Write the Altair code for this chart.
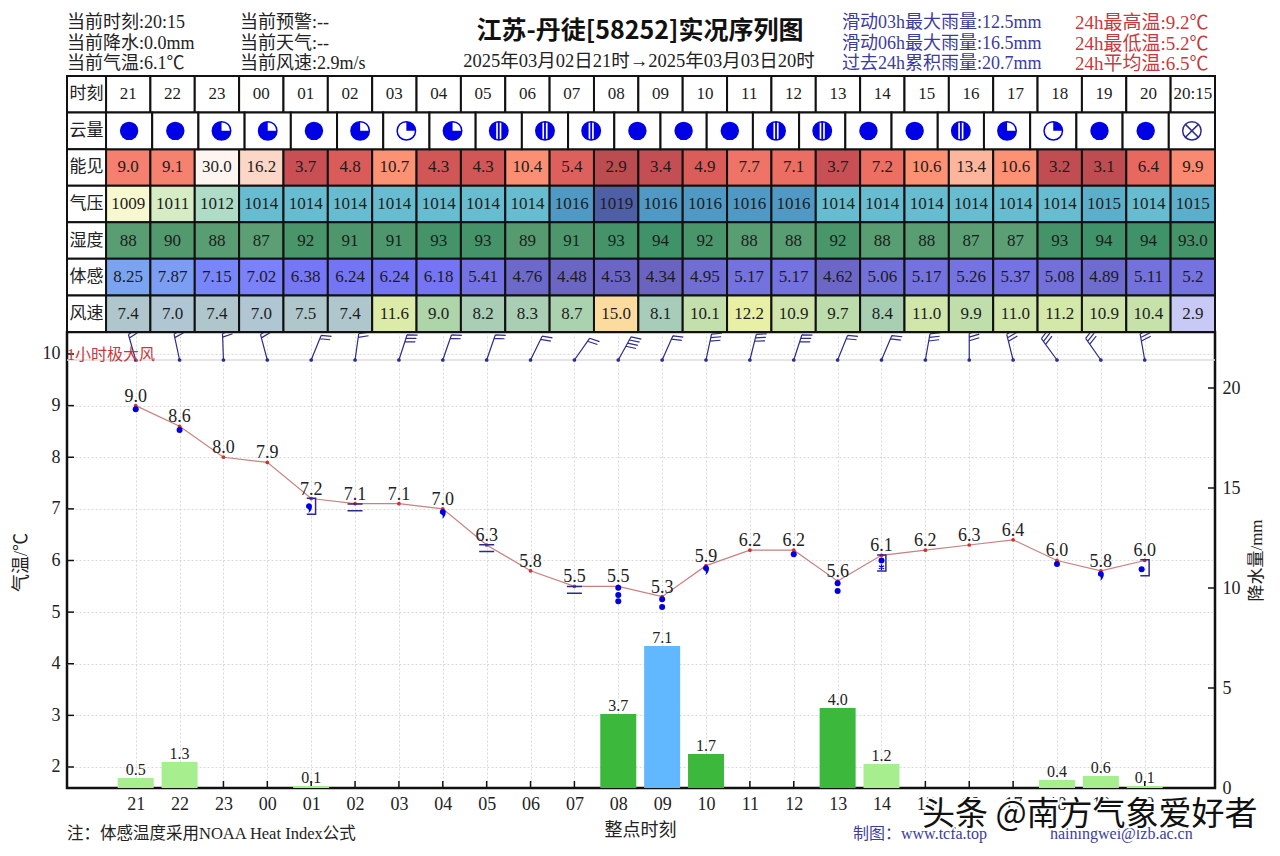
import altair as alt
import pandas as pd

# ---------- data ----------
HOURS = ["21","22","23","00","01","02","03","04","05","06","07","08","09","10","11","12","13","14","15","16","17","18","19","20"]
TIME_ROW = HOURS + ["20:15"]
ROW_TITLES = ["时刻","云量","能见","气压","湿度","体感","风速"]
CLOUD = ["full","full","three","three","full","three","one","three","half","half","half","full","full","full","half","half","full","full","half","three","one","full","full","cross"]
VIS = ["9.0","9.1","30.0","16.2","3.7","4.8","10.7","4.3","4.3","10.4","5.4","2.9","3.4","4.9","7.7","7.1","3.7","7.2","10.6","13.4","10.6","3.2","3.1","6.4","9.9"]
PRES = ["1009","1011","1012","1014","1014","1014","1014","1014","1014","1014","1016","1019","1016","1016","1016","1016","1014","1014","1014","1014","1014","1014","1015","1014","1015"]
HUM = ["88","90","88","87","92","91","91","93","93","89","91","93","94","92","88","88","92","88","88","87","87","93","94","94","93.0"]
FEEL = ["8.25","7.87","7.15","7.02","6.38","6.24","6.24","6.18","5.41","4.76","4.48","4.53","4.34","4.95","5.17","5.17","4.62","5.06","5.17","5.26","5.37","5.08","4.89","5.11","5.2"]
WIND = ["7.4","7.0","7.4","7.0","7.5","7.4","11.6","9.0","8.2","8.3","8.7","15.0","8.1","10.1","12.2","10.9","9.7","8.4","11.0","9.9","11.0","11.2","10.9","10.4","2.9"]
TEMP = [9.0,8.6,8.0,7.9,7.2,7.1,7.1,7.0,6.3,5.8,5.5,5.5,5.3,5.9,6.2,6.2,5.6,6.1,6.2,6.3,6.4,6.0,5.8,6.0]
RAIN = [0.5,1.3,0,0,0.1,0,0,0,0,0,0,3.7,7.1,1.7,0,0,4.0,1.2,0,0,0,0.4,0.6,0.1]
BARB_DIR = [-16,-12,-2,-15,22,8,18,19,19,26,35,29,24,12,14,18,22,23,10,0,-14,-36,-35,-10]
BARB_N = [2,2,2,2,2,2,3,2,2,2,2,4,2,3,3,3,2,2,3,3,3,3,3,3]
DOT_HOUR = [0,1,11,11,11,12,12,15,16,16,17,21,22.93]
DOT_TEMP = [8.93,8.53,5.47,5.33,5.21,5.25,5.10,6.12,5.56,5.41,6.00,5.93,5.83]
COMMA_HOUR = [3.95,7,13,22]
COMMA_TEMP = [7.05,6.94,5.85,5.74]
FOG_HOUR = [5,8,10]
FOG_TEMP = [7.03,6.24,5.43]
BOX_HOUR = [4,17,23]
BOX_TEMP = [7.05,5.95,5.86]
STAR_HOUR = [17]
STAR_TEMP = [5.87]
LEFT_TICKS = [2,3,4,5,6,7,8,9,10]
RIGHT_TICKS = [0,5,10,15,20]

# ---------- layout helpers ----------
SERIF = "Liberation Serif, Noto Sans CJK SC"
SANS = "Noto Sans CJK SC"
PW, PH, PX, PY = 1148, 456, 67, 332

X_MAIN = alt.Scale(domain=[-1.566, 24.602], nice=False, zero=False, padding=0)
Y_TEMP = alt.Scale(domain=[1.593, 10.426], nice=False, zero=False)
Y_RAIN = alt.Scale(domain=[0, 22.8], nice=False, zero=False)
X_TAB = alt.Scale(domain=[-0.88, 25], nice=False, zero=False)
X_CLOUD = alt.Scale(domain=[-0.844, 24], nice=False, zero=False)
Y_TAB = alt.Scale(domain=[0, 7], range=[-256, 0], nice=False, zero=False)

ONE = pd.DataFrame({"k": [0]})

def label(text, x, y, size=18, color="#222222", font=SERIF, align="left", weight="normal", **kw):
    return alt.Chart(ONE).mark_text(font=font, fontSize=size, color=color, align=align,
                                    baseline="middle", fontWeight=weight, **kw).encode(
        x=alt.value(x - PX), y=alt.value(y - PY), text=alt.value(text))

def xq(name="x"):
    return alt.X(f"{name}:Q", scale=X_TAB, axis=None)

layers = []

# ---------- main plot: axes, grid ----------
hour_expr = "[" + ",".join(f"'{h}'" for h in HOURS) + "][datum.value]"
main_df = pd.DataFrame({"h": list(range(24)), "t": TEMP, "r": RAIN,
                        "lab": [f"{t:.1f}" for t in TEMP]})
axis_layer = alt.Chart(main_df).mark_point(opacity=0).encode(
    x=alt.X("h:Q", scale=X_MAIN, axis=alt.Axis(
        values=list(range(24)), labelExpr=hour_expr, labelFont=SERIF, labelFontSize=18,
        labelColor="#222222", labelPadding=7, ticks=False, domain=False, grid=True,
        gridColor="#cfcfcf", gridDash=[2, 2], gridWidth=0.8, labelOverlap=False,
        labelFlush=False, title="整点时刻", titleFont=SERIF, titleFontSize=18,
        titleFontWeight="normal", titleColor="#222222", titleX=573, titleY=33)),
    y=alt.Y("t:Q", scale=Y_TEMP, axis=alt.Axis(
        values=LEFT_TICKS, labelFont=SERIF, labelFontSize=18, labelColor="#222222",
        labelPadding=7, ticks=False, domain=False, grid=True, gridColor="#cfcfcf",
        gridDash=[2, 2], gridWidth=0.8, format="d", title="气温/℃", titleFont=SERIF,
        titleFontSize=18, titleFontWeight="normal", titleColor="#222222",
        titleX=-37, titleY=230)))
layers.append(axis_layer)

rain_axis = alt.Chart(main_df).mark_point(opacity=0).encode(
    y=alt.Y("r:Q", scale=Y_RAIN, axis=alt.Axis(
        orient="right", values=RIGHT_TICKS, labelFont=SERIF, labelFontSize=18,
        labelColor="#222222", labelPadding=7, ticks=False, domain=False, grid=False,
        format="d", title="降水量/mm", titleFont=SERIF, titleFontSize=17,
        titleFontWeight="normal", titleColor="#222222", titleAngle=270,
        titleX=50, titleY=228)))
layers.append(rain_axis)

layers.append(alt.Chart(ONE).mark_rule(color="#dddddd", strokeWidth=1.5).encode(
    x=alt.value(0), x2=alt.value(PW), y=alt.value(28)))

# inward ticks
layers.append(alt.Chart(main_df).mark_rule(color="#111111", strokeWidth=1.5).encode(
    x=alt.X("h:Q", scale=X_MAIN, axis=None), y=alt.value(PH), y2=alt.value(PH - 7)))
layers.append(alt.Chart(pd.DataFrame({"v": LEFT_TICKS})).mark_rule(color="#111111", strokeWidth=1.5).encode(
    y=alt.Y("v:Q", scale=Y_TEMP, axis=None), x=alt.value(0), x2=alt.value(7)))
layers.append(alt.Chart(pd.DataFrame({"v": RIGHT_TICKS})).mark_rule(color="#111111", strokeWidth=1.5).encode(
    y=alt.Y("v:Q", scale=Y_RAIN, axis=None), x=alt.value(PW), x2=alt.value(PW - 7)))

# ---------- rain bars ----------
bars = main_df[main_df.r > 0]
layers.append(alt.Chart(bars).mark_bar(size=36).encode(
    x=alt.X("h:Q", scale=X_MAIN, axis=None),
    y=alt.Y("r:Q", scale=Y_RAIN, axis=None),
    y2=alt.datum(0),
    color=alt.Color("r:Q", legend=None, scale=alt.Scale(
        type="threshold", domain=[1.5, 7], range=["#a6ee8e", "#3cb83c", "#61b8ff"]))))
layers.append(alt.Chart(bars.assign(txt=[f"{v:.1f}" for v in bars.r])).mark_text(
    font=SERIF, fontSize=16, color="#222222", baseline="bottom", dy=0).encode(
    x=alt.X("h:Q", scale=X_MAIN, axis=None),
    y=alt.Y("r:Q", scale=Y_RAIN, axis=None),
    text="txt:N"))

# ---------- temperature ----------
layers.append(alt.Chart(main_df).mark_line(color="#c98080", strokeWidth=1.2).encode(
    x=alt.X("h:Q", scale=X_MAIN, axis=None), y=alt.Y("t:Q", scale=Y_TEMP, axis=None)))
layers.append(alt.Chart(main_df).mark_point(filled=True, color="#d62f2f", size=14, opacity=1).encode(
    x=alt.X("h:Q", scale=X_MAIN, axis=None), y=alt.Y("t:Q", scale=Y_TEMP, axis=None)))
layers.append(alt.Chart(main_df).mark_text(font=SERIF, fontSize=18, color="#222222", dy=-9).encode(
    x=alt.X("h:Q", scale=X_MAIN, axis=None), y=alt.Y("t:Q", scale=Y_TEMP, axis=None), text="lab:N"))

# ---------- weather symbols ----------
def sym(hours, temps, shape, size, filled=True, color="#0000e0", width=1.3):
    df = pd.DataFrame({"h": hours, "t": temps})
    return alt.Chart(df).mark_point(shape=shape, size=size, filled=filled, color=color,
                                    opacity=1, strokeWidth=width).encode(
        x=alt.X("h:Q", scale=X_MAIN, axis=None), y=alt.Y("t:Q", scale=Y_TEMP, axis=None))

COMMA = "M-1 0C-1 -1.3 1 -1.3 1 0C1 0.9 0.6 1.7 -0.2 2.3C0.1 1.6 0 1.1 -0.3 0.9C-0.7 0.8 -1 0.5 -1 0Z"
layers.append(sym(DOT_HOUR, DOT_TEMP, "circle", 36))
layers.append(sym(COMMA_HOUR, COMMA_TEMP, COMMA, 36))
layers.append(sym(FOG_HOUR, FOG_TEMP, "M-1 -0.45L1 -0.45M-1 0.45L1 0.45", 225, filled=False, color="#2a2a90", width=1.5))
layers.append(sym(BOX_HOUR, BOX_TEMP, "M-0.55 -1L0.55 -1L0.55 1L-0.55 1", 256, filled=False, color="#2a2a90", width=1.5))
layers.append(sym(STAR_HOUR, STAR_TEMP, "M0 -1L0 1M-0.87 -0.5L0.87 0.5M-0.87 0.5L0.87 -0.5", 36, filled=False))

# ---------- wind barbs (table drawn later covers their tips) ----------
barb_df = pd.DataFrame({"h": list(range(24)), "a": BARB_DIR, "n": BARB_N})
def barb_path(n):
    p = "M0 0L0 -2.65"
    for i in range(n):
        y0 = -2.65 + 0.36 * i
        p += f"M0 {y0:.2f}L1.0 {y0 - 0.3:.2f}"
    return p
for n in sorted(set(BARB_N)):
    layers.append(alt.Chart(barb_df[barb_df.n == n]).mark_point(
        shape=barb_path(n), size=400, filled=False, color="#2c2c8c", opacity=1, strokeWidth=1.2).encode(
        x=alt.X("h:Q", scale=X_MAIN, axis=None), y=alt.value(28),
        angle=alt.Angle("a:Q", scale=None)))
layers.append(alt.Chart(barb_df).mark_point(filled=True, color="#2c2c8c", size=14, opacity=1).encode(
    x=alt.X("h:Q", scale=X_MAIN, axis=None), y=alt.value(28)))

# ---------- table ----------
def cells(values, row):
    return pd.DataFrame({"x": [i for i in range(len(values))], "x2": [i + 1 for i in range(len(values))],
                         "xc": [i + 0.5 for i in range(len(values))], "y": row, "y2": row + 1,
                         "yc": row + 0.5, "txt": values, "v": [float(v.replace(":", ".")) for v in values]})

def cell_rect(df, color):
    return alt.Chart(df).mark_rect(stroke="#111111", strokeWidth=2).encode(
        x=xq("x"), x2="x2:Q", y=alt.Y("y:Q", scale=Y_TAB, axis=None), y2="y2:Q", color=color)

def cell_text(df):
    return alt.Chart(df).mark_text(font=SERIF, fontSize=17, color="#1c1c1c").encode(
        x=xq("xc"), y=alt.Y("yc:Q", scale=Y_TAB, axis=None), text="txt:N")

def ramp(domain, colors):
    return alt.Color("v:Q", legend=None, scale=alt.Scale(domain=domain, range=colors, clamp=True))

rows = [
    (TIME_ROW, 0, alt.value("#ffffff")),
    (VIS, 2, ramp([2.9, 3.7, 4.8, 7.2, 9.0, 10.7, 13.4, 16.2, 30.0],
                  ["#bb4c50", "#c85054", "#d95c5a", "#ed6e62", "#f5806f", "#fc9274", "#fdb59e", "#fcd7c8", "#fff5f0"])),
    (PRES, 3, ramp([1009, 1011, 1012, 1014, 1015, 1016, 1019],
                   ["#f7f7d0", "#d6ecc4", "#aedcc6", "#68bccf", "#5cafcb", "#4f99c4", "#4f5fa6"])),
    (HUM, 4, ramp([87, 90, 94], ["#5c9f74", "#53996e", "#409268"])),
    (FEEL, 5, ramp([4.34, 4.76, 5.2, 6.2, 7.0, 7.87, 8.25],
                   ["#6a63c0", "#6d69ca", "#7573e0", "#7474f4", "#7a80fb", "#7b9ef4", "#7ba4f0"])),
    (WIND, 6, ramp([2.9, 7.0, 7.5, 8.2, 9.0, 9.7, 10.9, 12.2, 15.0],
                   ["#c9c9f6", "#b0c6d3", "#afc7ca", "#a9cdb5", "#aed4aa", "#bcdcac", "#cfe5ab", "#e8f0a6", "#fcdb9e"])),
]
for vals, r, col in rows:
    df = cells(vals, r)
    layers.append(cell_rect(df, col))
    layers.append(cell_text(df))

# cloud row (24 cells, slightly wider)
cdf = pd.DataFrame({"x": range(24), "x2": range(1, 25), "xc": [i + 0.5 for i in range(24)],
                    "y": 1, "y2": 2, "yc": 1.5, "kind": CLOUD})
def cx():
    return alt.X("xc:Q", scale=X_CLOUD, axis=None)
def cy():
    return alt.Y("yc:Q", scale=Y_TAB, axis=None)
layers.append(alt.Chart(cdf).mark_rect(stroke="#111111", strokeWidth=2, fill="#ffffff").encode(
    x=alt.X("x:Q", scale=X_CLOUD, axis=None), x2="x2:Q",
    y=alt.Y("y:Q", scale=Y_TAB, axis=None), y2="y2:Q"))
BLUE = "#0000e6"
def ckind(kinds, **mark):
    d = cdf[cdf.kind.isin(kinds)]
    return alt.Chart(d).mark_point(opacity=1, **mark).encode(x=cx(), y=cy())
layers.append(ckind(["full", "half"], shape="circle", size=340, filled=True, color=BLUE))
layers.append(ckind(["three"], shape="M0 0L1 0A1 1 0 1 1 0 -1Z", size=340, filled=True, color=BLUE))
layers.append(ckind(["one"], shape="M0 0L0 -1A1 1 0 0 1 1 0Z", size=340, filled=True, color=BLUE))
layers.append(ckind(["half"], shape="M-0.28 -1L0.28 -1L0.28 1L-0.28 1Z", size=340, filled=True, color="#ffffff"))
layers.append(ckind(["half"], shape="M-0.1 -1L0.1 -1L0.1 1L-0.1 1Z", size=340, filled=True, color=BLUE))
layers.append(ckind(["three", "one", "half"], shape="circle", size=340, filled=False, color=BLUE, strokeWidth=1.5))
layers.append(ckind(["cross"], shape="circle", size=340, filled=False, color="#2a2a90", strokeWidth=1.5))
layers.append(ckind(["cross"], shape="M-0.7 -0.7L0.7 0.7M-0.7 0.7L0.7 -0.7", size=340, filled=False, color="#2a2a90", strokeWidth=1.5))

# row title column
tdf = pd.DataFrame({"x": -0.88, "x2": 0.0, "xc": -0.44,
                    "y": list(range(7)), "y2": [i + 1 for i in range(7)],
                    "yc": [i + 0.5 for i in range(7)], "txt": ROW_TITLES})
layers.append(alt.Chart(tdf).mark_rect(stroke="#111111", strokeWidth=2, fill="#ffffff").encode(
    x=xq("x"), x2="x2:Q", y=alt.Y("y:Q", scale=Y_TAB, axis=None), y2="y2:Q"))
layers.append(alt.Chart(tdf).mark_text(font=SERIF, fontSize=17, color="#222222").encode(
    x=xq("xc"), y=alt.Y("yc:Q", scale=Y_TAB, axis=None), text="txt:N"))

# ---------- free text ----------
BLUE_TXT = "#3c3c9c"
RED_TXT = "#c8393c"
for i, t in enumerate(["当前时刻:20:15", "当前降水:0.0mm", "当前气温:6.1℃"]):
    layers.append(label(t, 67, 23 + 20.5 * i))
for i, t in enumerate(["当前预警:--", "当前天气:--", "当前风速:2.9m/s"]):
    layers.append(label(t, 240, 23 + 20.5 * i))
for i, t in enumerate(["滑动03h最大雨量:12.5mm", "滑动06h最大雨量:16.5mm", "过去24h累积雨量:20.7mm"]):
    layers.append(label(t, 842, 23 + 20.5 * i, color=BLUE_TXT))
for i, t in enumerate(["24h最高温:9.2℃", "24h最低温:5.2℃", "24h平均温:6.5℃"]):
    layers.append(label(t, 1075, 23 + 20.5 * i, size=19, color=RED_TXT))
layers.append(label("江苏-丹徒[58252]实况序列图", 640, 31, size=25, align="center", font=SANS, weight="bold", color="#111111"))
layers.append(label("2025年03月02日21时→2025年03月03日20时", 639, 61, size=18.5, align="center"))
layers.append(label("1小时极大风", 67, 355, size=16, color=RED_TXT))
layers.append(label("注：体感温度采用NOAA Heat Index公式", 67, 834, size=16.5))
layers.append(label("制图：www.tcfa.top", 853, 834, size=16, color=BLUE_TXT))
layers.append(label("hainingwei@lzb.ac.cn", 1050, 834, size=16, color=BLUE_TXT))
layers.append(label("头条 @南方气象爱好者", 922, 815, size=33, font=SANS, color="#ffffff", stroke="#ffffff", strokeWidth=4))
layers.append(label("头条 @南方气象爱好者", 922, 815, size=33, font=SANS, color="#111111"))

chart = alt.layer(*layers).resolve_scale(
    x="independent", y="independent", color="independent"
).resolve_axis(x="independent", y="independent").properties(
    width=PW, height=PH, autosize="none",
    padding={"left": 59, "top": 324, "right": 57, "bottom": 60},
    background="#ffffff",
).configure_view(stroke="#111111", strokeWidth=2.5)

chart.save("out.html", embed_options={"renderer": "svg", "actions": False})
